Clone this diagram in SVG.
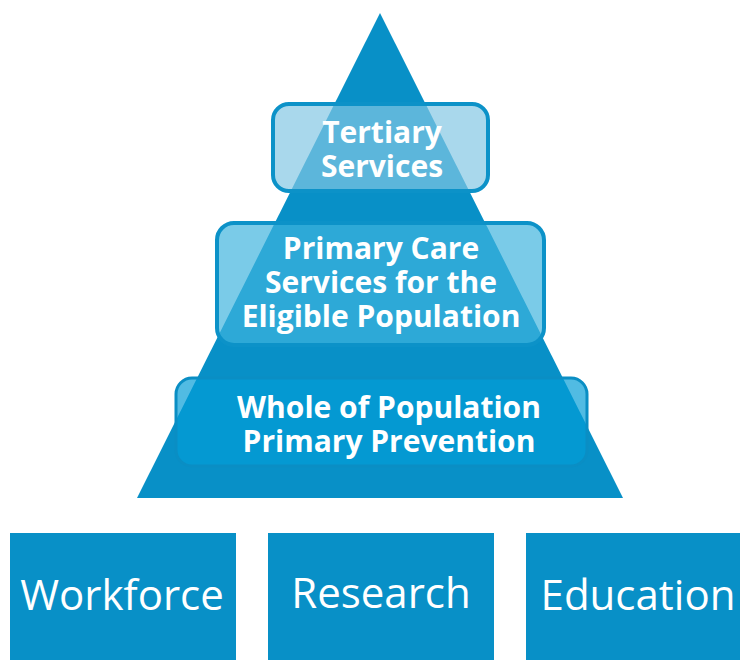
<svg xmlns="http://www.w3.org/2000/svg" width="740" height="660" viewBox="0 0 740 660">
  <style>
    .tri { fill: #0890c7; }
    .tier { stroke: #0c92c8; stroke-width: 4; }
    .t1 { fill: rgb(130,199,228); fill-opacity: 0.69; }
    .t2 { fill: rgb(62,180,222); fill-opacity: 0.69; }
    .t3 { fill: rgb(3,157,214); fill-opacity: 0.69; stroke: #0a8ec4; stroke-width: 3; }
    .lbl { font-family: "Open Sans", "Noto Sans", sans-serif; font-weight: bold; font-size: 30px; fill: #ffffff; text-anchor: middle; }
    .pillar { fill: #0890c7; }
    .plbl { font-family: "Open Sans", "Noto Sans", sans-serif; font-size: 42px; fill: #ffffff; text-anchor: middle; }
  </style>
  <rect width="740" height="660" fill="#ffffff"/>
  <g id="pyramid">
    <polygon class="tri" points="380,13 137,498 623,498"/>
  </g>
  <g id="tertiary">
    <rect class="tier t1" x="273" y="104" width="215" height="87" rx="16"/>
    <text class="lbl"><tspan x="382" y="143">Tertiary</tspan><tspan x="382" y="177">Services</tspan></text>
  </g>
  <g id="primary-care">
    <rect class="tier t2" x="217" y="223" width="327" height="122" rx="17"/>
    <text class="lbl"><tspan x="381" y="259">Primary Care</tspan><tspan x="381" y="293">Services for the</tspan><tspan x="381" y="327">Eligible Population</tspan></text>
  </g>
  <g id="primary-prevention">
    <rect class="t3" x="176" y="378" width="411" height="88" rx="16"/>
    <text class="lbl"><tspan x="389" y="418">Whole of Population</tspan><tspan x="389" y="452">Primary Prevention</tspan></text>
  </g>
  <g id="workforce">
    <rect class="pillar" x="10" y="533" width="226" height="130"/>
    <text class="plbl" x="122" y="610">Workforce</text>
  </g>
  <g id="research">
    <rect class="pillar" x="268" y="533" width="226" height="130"/>
    <text class="plbl" x="381" y="608">Research</text>
  </g>
  <g id="education">
    <rect class="pillar" x="526" y="533" width="226" height="130"/>
    <text class="plbl" x="638" y="610">Education</text>
  </g>
</svg>
